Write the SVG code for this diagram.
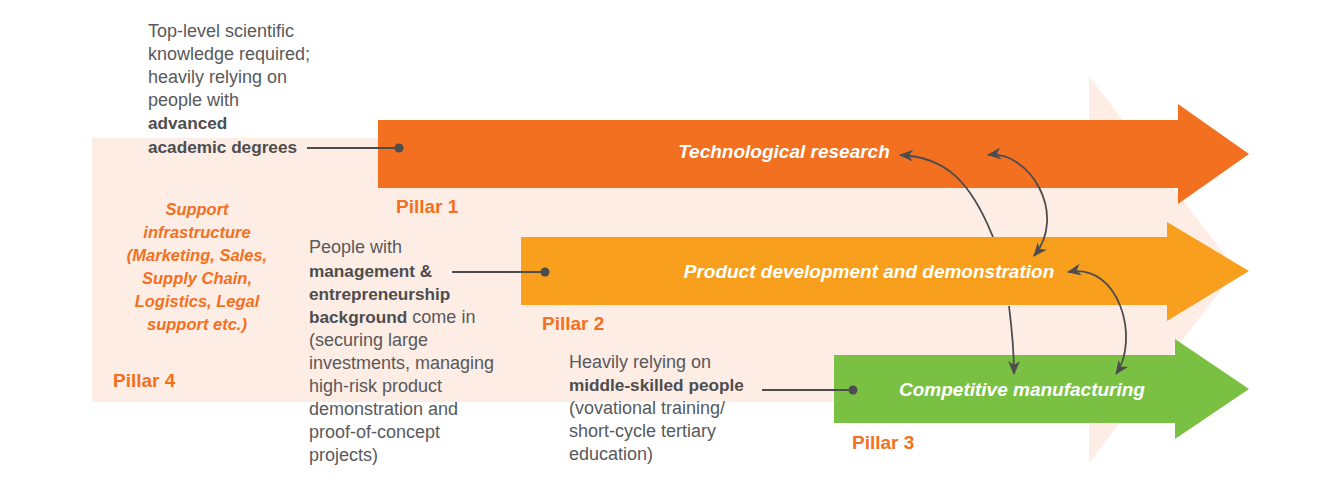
<svg xmlns="http://www.w3.org/2000/svg" width="1335" height="484" viewBox="0 0 1335 484">
<style>
.body{font-family:"Liberation Sans",Arial,sans-serif;font-size:18px;fill:#58595b}
.b{font-weight:bold;fill:#4d4d4f;font-size:17.2px}
.pillar{font-family:"Liberation Sans",Arial,sans-serif;font-size:19px;font-weight:bold;fill:#f37021}
.alabel{font-family:"Liberation Sans",Arial,sans-serif;font-size:19px;font-weight:bold;font-style:italic;fill:#ffffff;text-anchor:middle}
.p4{font-family:"Liberation Sans",Arial,sans-serif;font-size:16.5px;font-weight:bold;font-style:italic;fill:#f37021;text-anchor:middle}
.lead{stroke:#4d4d4f;stroke-width:1.8;fill:none}
.dot{fill:#4d4d4f}
.curve{stroke:#4d4d4f;stroke-width:1.8;fill:none}
</style>
<defs>
<marker id="ah" markerUnits="userSpaceOnUse" markerWidth="16" markerHeight="12" refX="13" refY="6" orient="auto-start-reverse">
<path d="M0,0 L14,6 L0,12 L4,6 z" fill="#4d4d4f"/>
</marker>
</defs>
<rect width="1335" height="484" fill="#ffffff"/>
<g id="pillar4">
<path d="M92,138 H1089 V76 L1236,270 L1089,463 V402 H92 Z" fill="#fdede5"/>
<text class="p4"><tspan x="197" y="215">Support</tspan><tspan x="197" y="238">infrastructure</tspan><tspan x="197" y="261">(Marketing, Sales,</tspan><tspan x="197" y="284">Supply Chain,</tspan><tspan x="197" y="307">Logistics, Legal</tspan><tspan x="197" y="330">support etc.)</tspan></text>
<text class="pillar" x="113" y="387">Pillar 4</text>
</g>
<g id="pillar1">
<path d="M378,120 H1178 V104 L1249,154 L1178,204 V188 H378 Z" fill="#f37021"/>
<text class="alabel" x="784" y="158">Technological research</text>
<text class="pillar" x="396" y="213">Pillar 1</text>
<text class="body"><tspan x="148" y="37">Top-level scientific</tspan><tspan x="148" y="60">knowledge required;</tspan><tspan x="148" y="83">heavily relying on</tspan><tspan x="148" y="106">people with</tspan><tspan x="148" y="129" class="b">advanced</tspan><tspan x="148" y="153" class="b">academic degrees</tspan></text>
</g>
<g id="pillar3">
<path d="M834,355 H1175 V339 L1249,389 L1175,439 V423 H834 Z" fill="#7ac143"/>
<text class="alabel" x="1022" y="396">Competitive manufacturing</text>
<text class="pillar" x="852" y="449">Pillar 3</text>
<text class="body"><tspan x="569" y="368">Heavily relying on</tspan><tspan x="569" y="391" class="b">middle-skilled people</tspan><tspan x="569" y="414">(vovational training/</tspan><tspan x="569" y="437">short-cycle tertiary</tspan><tspan x="569" y="460">education)</tspan></text>
</g>
<g id="pillar2">
<path d="M521,237 H1167 V222 L1249,271 L1167,321 V305 H521 Z" fill="#f8a01d"/>
<text class="alabel" x="869" y="278">Product development and demonstration</text>
<text class="pillar" x="542" y="330">Pillar 2</text>
<text class="body"><tspan x="309" y="253">People with</tspan><tspan x="309" y="277" class="b">management &amp;</tspan><tspan x="309" y="300" class="b">entrepreneurship</tspan><tspan x="309" y="323"><tspan class="b">background</tspan> come in</tspan><tspan x="309" y="346">(securing large</tspan><tspan x="309" y="369">investments, managing</tspan><tspan x="309" y="392">high-risk product</tspan><tspan x="309" y="415">demonstration and</tspan><tspan x="309" y="438">proof-of-concept</tspan><tspan x="309" y="461">projects)</tspan></text>
</g>
<g id="connectors">
<line class="lead" x1="307" y1="148" x2="399" y2="148"/>
<circle class="dot" cx="399" cy="148" r="4.5"/>
<line class="lead" x1="452" y1="272" x2="545" y2="272"/>
<circle class="dot" cx="545" cy="272" r="4.5"/>
<line class="lead" x1="762" y1="390" x2="853" y2="390"/>
<circle class="dot" cx="853" cy="390" r="4.5"/>
<path class="curve" d="M993,237 C970,180 945,157 900,155" marker-end="url(#ah)"/>
<path class="curve" d="M1009,306 C1012,330 1014,350 1014,374" marker-end="url(#ah)"/>
<path class="curve" d="M988,155 C1030,150 1068,215 1034,256" marker-start="url(#ah)" marker-end="url(#ah)"/>
<path class="curve" d="M1068,272 C1120,262 1140,340 1116,374" marker-start="url(#ah)" marker-end="url(#ah)"/>
</g>
</svg>
